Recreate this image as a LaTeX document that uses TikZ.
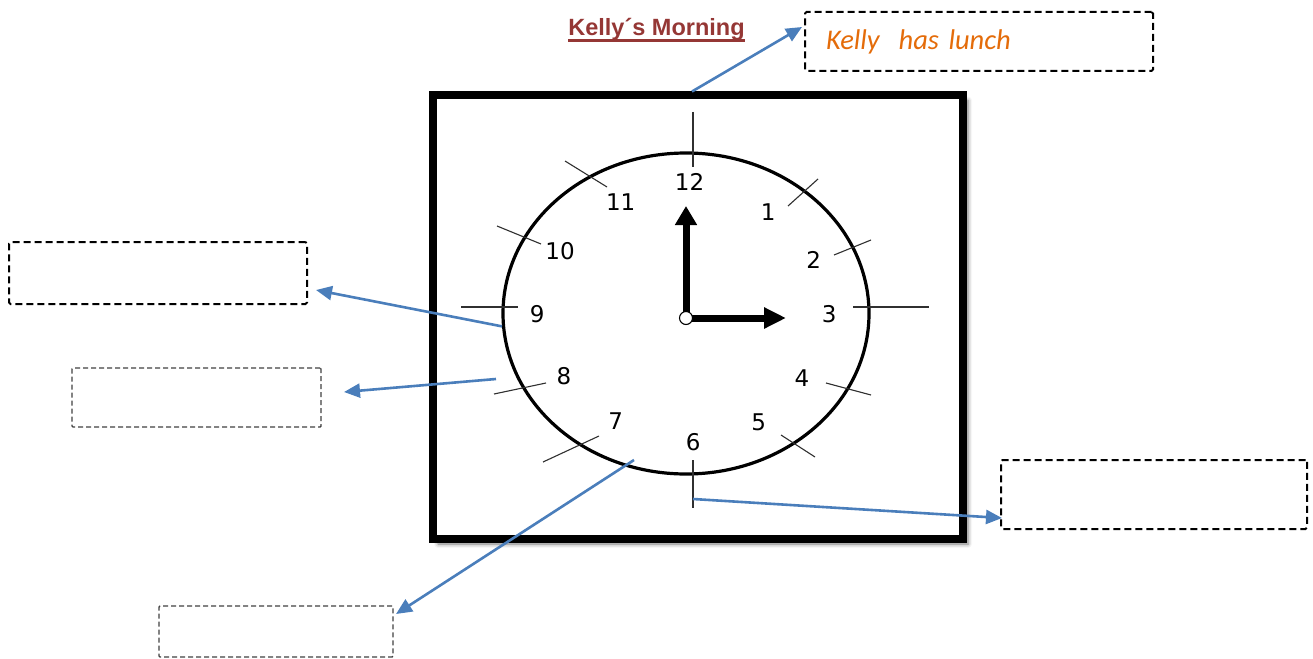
\documentclass[tikz,border=0pt]{standalone}
\usepackage{fontspec}
\setmainfont{DejaVu Sans}
\newfontfamily\titlefont{Liberation Sans}
\newfontfamily\notefont{Carlito}
\usetikzlibrary{arrows.meta, calc, shapes.geometric, shadows.blur}

\definecolor{linkblue}{HTML}{4A7EBB}
\definecolor{titlered}{HTML}{953735}
\definecolor{noteorange}{HTML}{E46C0A}
\definecolor{boxgray}{HTML}{404040}
\definecolor{tickgray}{HTML}{303030}

\begin{document}
\begin{tikzpicture}[x=1pt, y=-1pt,
  answerbox/.style={draw=black, line width=2pt, dash pattern=on 7pt off 4pt,
    rounded corners=1.5pt, inner sep=0pt},
  lightbox/.style={draw=boxgray, line width=1.4pt, dash pattern=on 5pt off 3pt,
    rounded corners=1pt, inner sep=0pt},
  pointer/.style={draw=linkblue, line width=2.6pt, -{Triangle[length=16pt,width=14pt]}},
  dialtick/.style={draw=tickgray, line width=1.1pt},
  handarrow/.style={draw=black, line width=7pt},
  numlabel/.style={font=\fontsize{23pt}{26pt}\selectfont, inner sep=0pt},
]
\useasboundingbox (0,0) rectangle (1313,658);

% title
\node[font=\titlefont\bfseries\fontsize{23.5pt}{27pt}\selectfont, text=titlered,
  anchor=base, inner sep=0pt] (title) at (656.5,35.7) {Kelly´s Morning};
\draw[titlered, line width=2.5pt] ($(title.base west)+(0,5)$) -- ($(title.base east)+(0,5)$);

% answer boxes
\node[answerbox, text width=306pt, inner xsep=21pt, minimum height=59pt, align=left,
  font=\notefont\itshape\fontsize{28.5pt}{32pt}\selectfont, text=noteorange]
  (lunch) at (979,41.5) {Kelly\ \ has lunch};
\node[answerbox, minimum width=298pt, minimum height=62pt] (b1) at (158,273) {};
\node[lightbox, minimum width=249pt, minimum height=59pt] (b2) at (196.5,397.5) {};
\node[lightbox, minimum width=234pt, minimum height=51pt] (b3) at (276,631.5) {};
\node[answerbox, minimum width=306pt, minimum height=69pt] (b4) at (1154,494.5) {};

% clock frame
\node[draw=black, line width=8pt, fill=white, inner sep=0pt,
  minimum width=530pt, minimum height=443.5pt,
  blur shadow={shadow xshift=5pt, shadow yshift=-5pt, shadow blur radius=4pt, shadow opacity=55}]
  (frame) at (698,317.25) {};

% dial
\node[ellipse, draw=black, line width=3.2pt, inner sep=0pt,
  minimum width=366pt, minimum height=321pt] (face) at (686,313.5) {};

% hour marks
\draw[dialtick] (693,112) -- (693,167);
\draw[dialtick] (853,307) -- (929,307);
\draw[dialtick] (461,307) -- (518,307);
\draw[dialtick] (693,460) -- (693,508);
\draw[dialtick] (565,161) -- (607,187);
\draw[dialtick] (788,206) -- (818,179);
\draw[dialtick] (497,226) -- (541,244);
\draw[dialtick] (834,255) -- (871,240);
\draw[dialtick] (494,394) -- (546,383);
\draw[dialtick] (826,383) -- (871,395);
\draw[dialtick] (543,462) -- (599,436);
\draw[dialtick] (781,435) -- (815,457);

% numerals
\node[numlabel] (n12) at (689.6,181.7) {12};
\node[numlabel] (n1) at (768.2,211.7) {1};
\node[numlabel] (n2) at (813.6,260) {2};
\node[numlabel] (n3) at (829.3,314.3) {3};
\node[numlabel] (n4) at (802,377.7) {4};
\node[numlabel] (n5) at (758.6,422.3) {5};
\node[numlabel] (n6) at (693.2,441.7) {6};
\node[numlabel] (n7) at (615.7,420.7) {7};
\node[numlabel] (n8) at (564,376) {8};
\node[numlabel] (n9) at (537.1,314.3) {9};
\node[numlabel] (n10) at (560,250.7) {10};
\node[numlabel] (n11) at (620.7,202.3) {11};

% hands
\coordinate (hub) at (686,318);
\coordinate (hourtip) at (686,206);
\coordinate (minutetip) at (786,318);
\draw[handarrow, -{Triangle[length=19pt,width=21pt]}] (hub) -- (hourtip);
\draw[handarrow, -{Triangle[length=22pt,width=20pt]}] (hub) -- (minutetip);
\node[circle, draw=black, line width=1.1pt, fill=white, minimum size=13pt, inner sep=0pt] (pivot) at (hub) {};

% pointers to the answer boxes
\coordinate (topedge) at (692,91.5);
\coordinate (lunchin) at (802,27);
\coordinate (b1in) at (316,290);
\coordinate (b2in) at (344,392);
\coordinate (b3in) at (396,614);
\coordinate (b4in) at (1002,518);
\coordinate (markeight) at (496,379);
\coordinate (markseven) at (634,460);
\coordinate (marksix) at (693,499);

\draw[pointer] (topedge) -- (lunchin);
\draw[pointer] (face.184) -- (b1in);
\draw[pointer] (markeight) -- (b2in);
\draw[pointer] (markseven) -- (b3in);
\draw[pointer] (marksix) -- (b4in);
\end{tikzpicture}
\end{document}
